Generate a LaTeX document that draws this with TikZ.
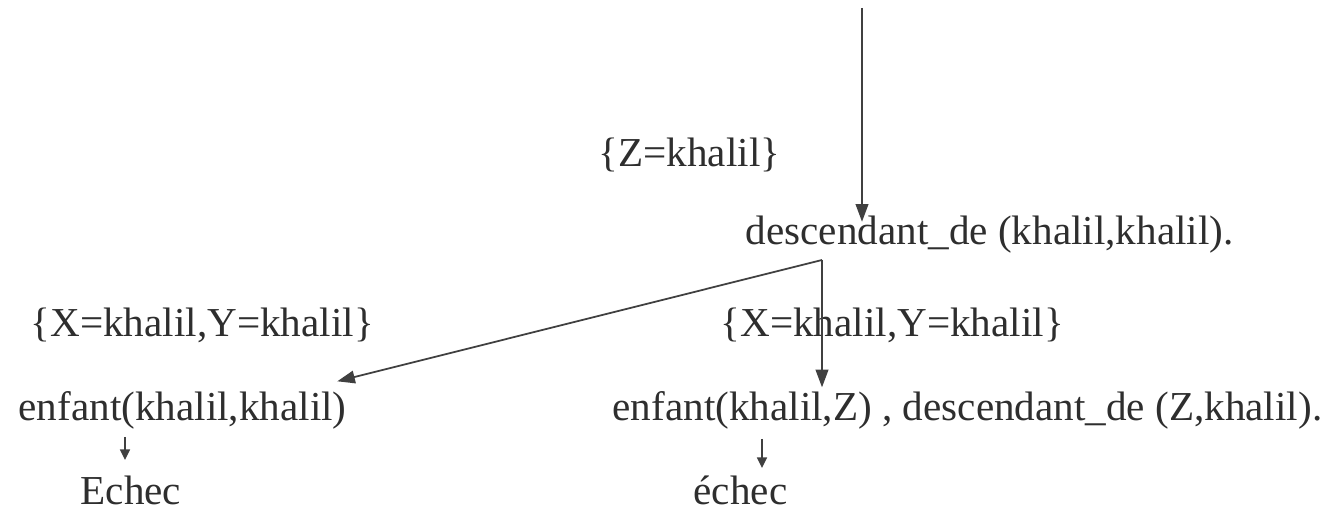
\documentclass[tikz,border=0pt]{standalone}
\usepackage{fontspec}
\setmainfont{Liberation Serif}
\usetikzlibrary{arrows.meta,calc}
\begin{document}
\begin{tikzpicture}[x=0.01cm,y=-0.01cm,
  term/.style={inner sep=0pt,anchor=base west,text=black!82,font=\fontsize{11.7}{14}\selectfont},
  link/.style={draw=black!75,line width=0.5pt,-{Triangle[length=5pt,width=3.6pt]}},
  smalllink/.style={draw=black!75,line width=0.5pt,-{Triangle[length=3pt,width=2.8pt]}}]
  \useasboundingbox (0,0) rectangle (1327,513);

  % goals and substitutions
  \node[term] (subz) at (598,167) {\{Z=khalil\}};
  \node[term] (desc) at (745,245) {descendant\_de (khalil,khalil).};
  \node[term] (subl) at (30,337) {\{X=khalil,Y=khalil\}};
  \node[term] (subr) at (720,337) {\{X=khalil,Y=khalil\}};
  \node[term] (ek)   at (18,421) {enfant(khalil,khalil)};
  \node[term] (ez)   at (612,421) {enfant(khalil,Z) , descendant\_de (Z,khalil).};
  \node[term] (fl)   at (80,505) {Echec};
  \node[term] (fr)   at (693,505) {échec};

  % incoming edge and branching point
  \coordinate (top) at (862,8);
  \coordinate (fork) at (822,260);

  \draw[link] (top) -- (top |- {$(desc.north)+(0,6)$});
  \draw[link] (fork) -- ($(ek.north east)+(-10,-10)$);
  \draw[link] (fork) -- (fork |- {$(ez.north)+(0,-4)$});

  % failure edges
  \draw[smalllink] ($(ek.base west)+(107,16)$) -- ($(fl.base west)+(45,-45)$);
  \draw[smalllink] ($(ez.base west)+(150,18)$) -- ($(fr.base west)+(69,-37)$);
\end{tikzpicture}
\end{document}
